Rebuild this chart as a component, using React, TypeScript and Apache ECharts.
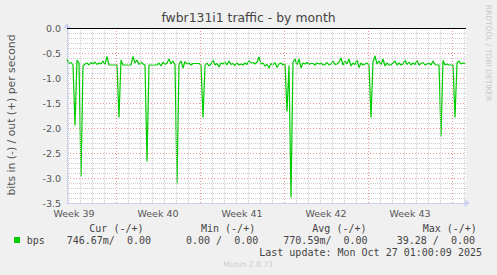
import React, { useEffect, useRef } from 'react';
import * as echarts from 'echarts';

// Samples every 4 hours; hour 0 = start of Week 40
const startHour = -98;
const stepHours = 4;
const inValues = [
  -0.63, -0.71, -0.69, -0.74, -1.95, -0.64, -0.70, -2.97, -0.76, -0.72,
  -0.70, -0.74, -0.69, -0.72, -0.68, -0.73, -0.70, -0.72, -0.66, -0.73,
  -0.57, -0.74, -0.74, -0.74, -0.74, -0.74, -1.79, -0.64, -0.74, -0.74,
  -0.74, -0.74, -0.74, -0.57, -0.70, -0.64, -0.73, -0.68, -0.72, -0.74,
  -2.67, -0.74, -0.74, -0.74, -0.74, -0.74, -0.70, -0.76, -0.68, -0.73,
  -0.70, -0.62, -0.72, -0.66, -0.74, -3.11, -0.72, -0.66, -0.80, -0.67,
  -0.72, -0.70, -0.74, -0.71, -0.71, -0.71, -0.71, -0.74, -1.79, -0.75,
  -0.70, -0.76, -0.72, -0.64, -0.74, -0.71, -0.78, -0.70, -0.72, -0.68,
  -0.74, -0.66, -0.73, -0.71, -0.75, -0.70, -0.74, -0.72, -0.74, -0.70,
  -0.73, -0.65, -0.70, -0.69, -0.72, -0.68, -0.58, -0.72, -0.70, -0.76,
  -0.73, -0.80, -0.71, -0.74, -0.69, -0.79, -0.72, -0.70, -0.74, -0.72,
  -1.67, -0.75, -3.39, -0.68, -0.62, -0.74, -0.62, -0.80, -0.70, -0.72,
  -0.69, -0.73, -0.71, -0.71, -0.74, -0.70, -0.72, -0.70, -0.74, -0.73,
  -0.69, -0.74, -0.72, -0.66, -0.73, -0.72, -0.68, -0.60, -0.74, -0.66,
  -0.72, -0.62, -0.76, -0.70, -0.73, -0.64, -0.79, -0.70, -0.74, -0.72,
  -0.70, -0.74, -1.79, -0.68, -0.56, -0.72, -0.66, -0.74, -0.62, -0.76,
  -0.70, -0.74, -0.74, -0.70, -0.66, -0.74, -0.70, -0.74, -0.72, -0.64,
  -0.73, -0.68, -0.74, -0.70, -0.73, -0.65, -0.74, -0.71, -0.69, -0.74,
  -0.72, -0.70, -0.74, -0.66, -0.73, -0.74, -0.74, -2.17, -0.65, -0.74,
  -0.72, -0.74, -0.74, -0.74, -1.79, -0.70, -0.66, -0.72, -0.70, -0.72,
];
const sampleHours = inValues.map((_, i) => startHour + i * stepHours);

const xMinHour = -98;
const xMaxHour = 700;
const weekStartHours = [0, 168, 336, 504, 672];
const weekLabelHours = [-84, 84, 252, 420, 588];
const weekLabels = ['Week 39', 'Week 40', 'Week 41', 'Week 42', 'Week 43'];

const title = 'fwbr131i1 traffic - by month';
const yAxisName = 'bits in (-) / out (+) per second';
const legendHeaders = ['Cur (-/+)', 'Min (-/+)', 'Avg (-/+)', 'Max (-/+)'];
const legendValues = ['746.67m/  0.00', '0.00 /  0.00', '770.59m/  0.00', '39.28 /  0.00'];
const seriesName = 'bps';
const lastUpdate = 'Last update: Mon Oct 27 01:00:09 2025';
const footer = 'Munin 2.0.73';
const sideText = 'RRDTOOL / TOBI OETIKER';

const GREEN = '#00cc00';
const SANS = 'DejaVu Sans';
const MONO = 'DejaVu Sans Mono';

export default function App() {
  const ref = useRef<HTMLDivElement>(null);
  useEffect(() => {
    const chart = echarts.init(ref.current!, null, { renderer: 'svg' });

    const dayLines: any[] = [];
    for (let h = -96; h <= 696; h += 24) {
      if (weekStartHours.indexOf(h) >= 0) continue;
      dayLines.push({ xAxis: h, lineStyle: { color: '#cccccc', type: [1, 1], width: 1 } });
    }
    const weekLines = weekStartHours.map((h) => ({
      xAxis: h,
      lineStyle: { color: 'rgba(240,110,110,0.75)', type: [1, 2], width: 1 },
    }));

    const headerX = [89.3, 201, 312.3, 422.7];
    const valueX = [66.7, 186, 283.3, 396.7];

    const graphics: any[] = [
      {
        type: 'text', left: 'center', top: 11,
        style: { text: title, fontFamily: SANS, fontSize: 12.4, fill: '#444' },
      },
      {
        type: 'text', x: 11, y: 115, rotation: Math.PI / 2,
        style: { text: yAxisName, fontFamily: SANS, fontSize: 10.8, fill: '#555', align: 'center', verticalAlign: 'middle' },
      },
      {
        type: 'text', x: 488.5, y: 53, rotation: -Math.PI / 2,
        style: { text: sideText, fontFamily: SANS, fontSize: 7.5, fill: '#c8c8c8', align: 'center', verticalAlign: 'middle' },
      },
      {
        type: 'rect', shape: { x: 14, y: 237, width: 6, height: 6 },
        style: { fill: GREEN },
      },
      {
        type: 'text', x: 26.7, y: 240,
        style: { text: seriesName, fontFamily: MONO, fontSize: 10, fill: '#444', align: 'left', verticalAlign: 'middle' },
      },
      {
        type: 'text', x: 482, y: 252,
        style: { text: lastUpdate, fontFamily: MONO, fontSize: 10, fill: '#444', align: 'right', verticalAlign: 'middle' },
      },
      {
        type: 'text', x: 248, y: 264.5,
        style: { text: footer, fontFamily: SANS, fontSize: 7.6, fill: '#cccccc', align: 'center', verticalAlign: 'middle' },
      },
    ];
    legendHeaders.forEach((t, i) => {
      graphics.push({
        type: 'text', x: headerX[i], y: 228,
        style: { text: t, fontFamily: MONO, fontSize: 10, fill: '#444', align: 'left', verticalAlign: 'middle' },
      });
    });
    legendValues.forEach((t, i) => {
      graphics.push({
        type: 'text', x: valueX[i], y: 240,
        style: { text: t, fontFamily: MONO, fontSize: 10, fill: '#444', align: 'left', verticalAlign: 'middle' },
      });
    });

    chart.setOption({
      animation: false,
      backgroundColor: '#f0f0f0',
      grid: {
        left: 67, top: 28, width: 399, height: 175,
        show: true, backgroundColor: '#ffffff', borderWidth: 0,
      },
      xAxis: {
        type: 'value',
        min: xMinHour,
        max: xMaxHour,
        axisLine: {
          show: true, onZero: false,
          lineStyle: { color: '#c8d0f4', width: 1 },
          symbol: ['none', 'arrow'], symbolSize: [6, 6], symbolOffset: [0, 4],
        },
        axisTick: { show: false },
        splitLine: { show: false },
        axisLabel: {
          customValues: weekLabelHours,
          formatter: (v: number) => {
            const i = weekLabelHours.indexOf(v);
            return i >= 0 ? weekLabels[i] : '';
          },
          color: '#555', fontFamily: SANS, fontSize: 9.5, margin: 5,
        },
      },
      yAxis: {
        type: 'value',
        min: -3.5,
        max: 0,
        interval: 0.5,
        axisLine: {
          show: true, onZero: false,
          lineStyle: { color: '#c8d0f4', width: 1 },
          symbol: ['none', 'arrow'], symbolSize: [6, 6], symbolOffset: [0, 5],
        },
        axisTick: { show: false },
        minorTick: { show: false, splitNumber: 5 },
        splitLine: { show: true, lineStyle: { color: 'rgba(240,110,110,0.75)', type: [1, 2], width: 1 } },
        minorSplitLine: { show: true, lineStyle: { color: '#d0d0d0', type: [1, 1], width: 1 } },
        axisLabel: {
          formatter: (v: number) => v.toFixed(1),
          color: '#555', fontFamily: SANS, fontSize: 9.5, margin: 6,
        },
      },
      graphic: graphics,
      series: [
        {
          type: 'line',
          name: 'grid',
          data: [],
          z: 1,
          silent: true,
          markLine: {
            silent: true, symbol: 'none', animation: false,
            label: { show: false },
            emphasis: { disabled: true },
            data: [...dayLines, ...weekLines],
          },
        },
        {
          type: 'line',
          name: seriesName,
          data: sampleHours.map((h, i) => [h, inValues[i]]),
          showSymbol: false,
          symbol: 'none',
          z: 3,
          lineStyle: { color: GREEN, width: 1.2 },
          itemStyle: { color: GREEN },
          markLine: {
            silent: true, symbol: 'none', animation: false,
            label: { show: false },
            emphasis: { disabled: true },
            data: [{ yAxis: 0, lineStyle: { color: '#000', type: 'solid', width: 1.2 } }],
          },
        },
      ],
    });
    return () => chart.dispose();
  }, []);
  return <div ref={ref} style={{ position: 'absolute', left: 0, top: 0, width: 497, height: 275 }} />;
}
